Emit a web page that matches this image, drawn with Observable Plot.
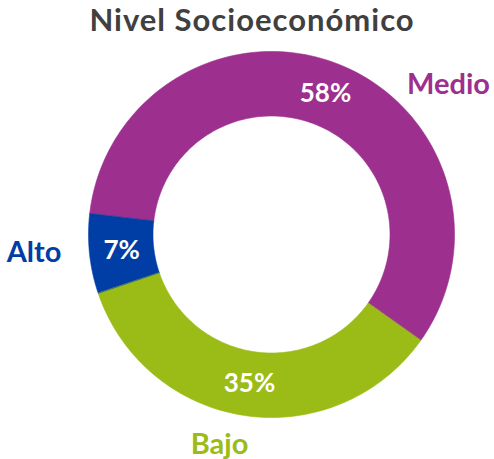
<!DOCTYPE html>
<html>
<head>
<meta charset="utf-8">
<script src="https://cdn.jsdelivr.net/npm/d3@7"></script>
<script src="https://cdn.jsdelivr.net/npm/@observablehq/plot@0.6"></script>
<style>
  html, body { margin: 0; padding: 0; background: #fff; }
  #chart { width: 494px; height: 459px; overflow: hidden; }
  #title { height: 38px; line-height: 38px; padding-left: 10px; text-align: center; letter-spacing: 1px;
           font-family: Lato, sans-serif; font-weight: bold; font-size: 31px; color: #404040; white-space: nowrap; }
  svg { display: block; }
</style>
</head>
<body>
<div id="chart"><div id="title">Nivel Socioeconómico</div></div>
<script>
// ---- data ----
const categories = ["Medio", "Bajo", "Alto"];
const values = [58, 35, 7];
const colors = ["#9D2F8E", "#9BBB17", "#003DA5"];
const pctLabels = ["58%", "35%", "7%"];

// ---- layout ----
const W = 494, H = 421;
const cx = 271, cy = 196, R = 183;          // pixels
const innerRatio = 118.5 / 183;
const startAngle = -83.4 * Math.PI / 180;
// outer category label anchors (units of outer radius, y up)
const catLabelPos = [[0.967, 0.820], [-0.284, -1.148], [-1.298, -0.098]];

const pie = d3.pie().sort(null).value(d => d.value)
  .startAngle(startAngle).endAngle(startAngle + 2 * Math.PI);
const rows = categories.map((c, i) => ({cat: c, value: values[i], pct: pctLabels[i]}));
const arcs = pie(rows);

const pts = [];
for (const a of arcs) {
  const n = 120;
  for (let k = 0; k <= n; k++) {
    const t = a.startAngle + (a.endAngle - a.startAngle) * k / n;
    pts.push({cat: a.data.cat, x: Math.sin(t), y: Math.cos(t)});
  }
  for (let k = n; k >= 0; k--) {
    const t = a.startAngle + (a.endAngle - a.startAngle) * k / n;
    pts.push({cat: a.data.cat, x: innerRatio * Math.sin(t), y: innerRatio * Math.cos(t)});
  }
}
const midR = (1 + innerRatio) / 2;
const pctData = arcs.map(a => {
  const m = (a.startAngle + a.endAngle) / 2;
  return {cat: a.data.cat, label: a.data.pct, x: midR * Math.sin(m), y: midR * Math.cos(m)};
});
const catData = categories.map((c, i) => ({cat: c, x: catLabelPos[i][0], y: catLabelPos[i][1]}));

const plot = Plot.plot({
  width: W, height: H,
  margin: 0,
  x: {domain: [-cx / R, (W - cx) / R], axis: null},
  y: {domain: [-(H - cy) / R, cy / R], axis: null},
  color: {domain: categories, range: colors},
  style: {fontFamily: "Lato, sans-serif", background: "white"},
  marks: [
    Plot.line(pts, {x: "x", y: "y", z: "cat", fill: "cat", stroke: "cat", strokeWidth: 0.6, curve: "linear-closed"}),
    Plot.text(pctData, {x: "x", y: "y", text: "label", fill: "white", fontSize: 26, fontWeight: "bold"}),
    Plot.text(catData, {x: "x", y: "y", text: "cat", fill: "cat", fontSize: 29, fontWeight: "bold"})
  ]
});
document.getElementById("chart").appendChild(plot);
</script>
</body>
</html>
